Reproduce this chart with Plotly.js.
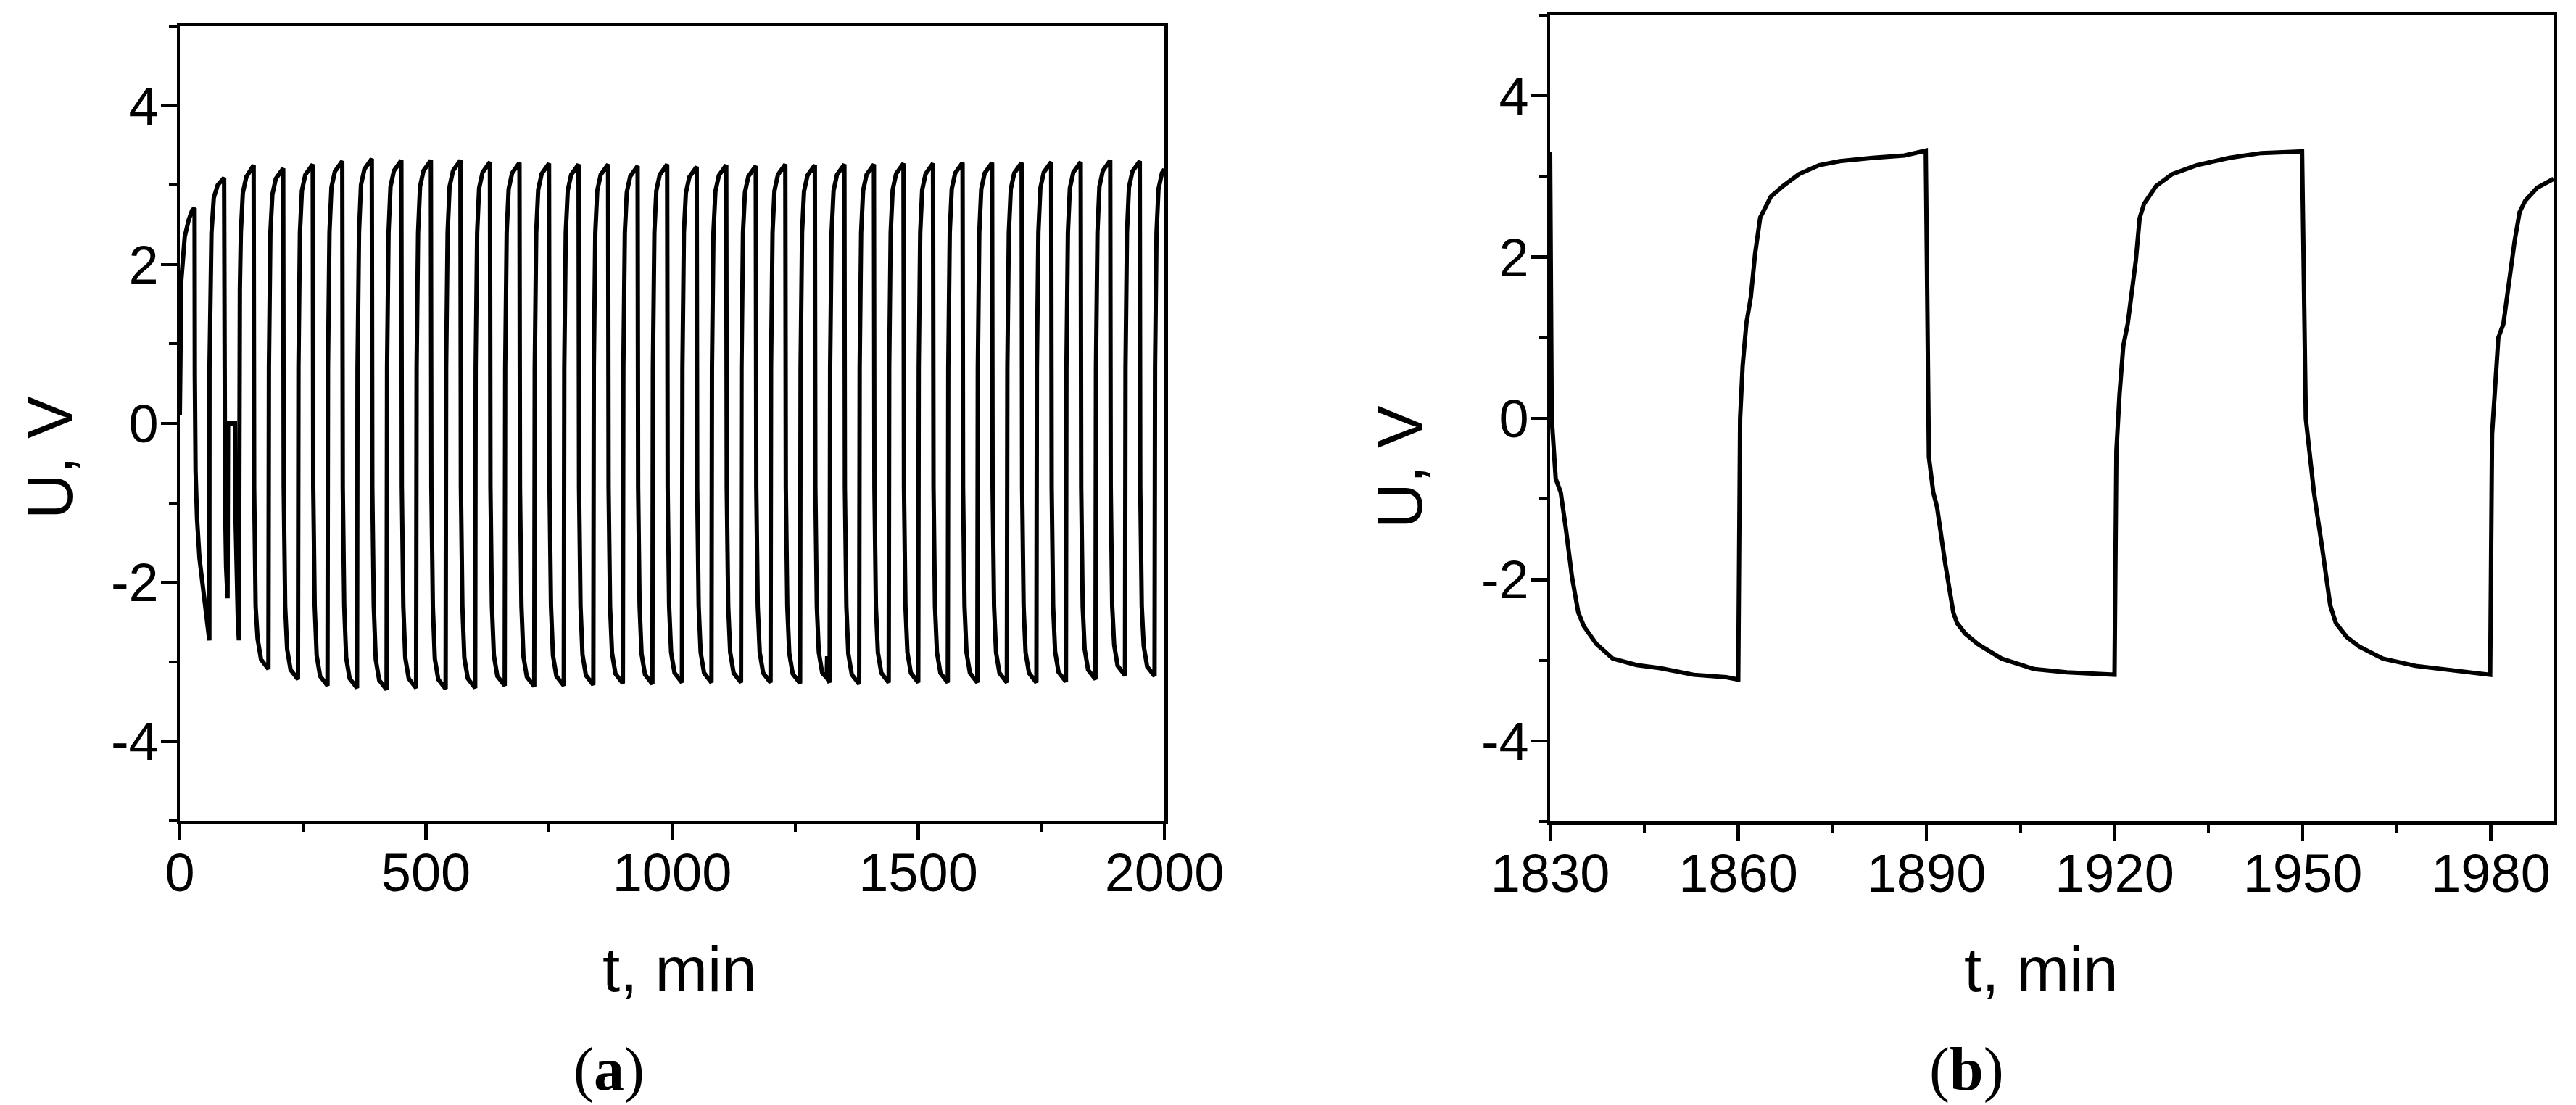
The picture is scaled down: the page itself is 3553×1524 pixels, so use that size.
<!DOCTYPE html>
<html>
<head>
<meta charset="utf-8">
<script src="https://cdn.plot.ly/plotly-3.0.1.min.js"></script>
<style>
  html, body { margin: 0; padding: 0; background: #fff; }
  #chart { width: 3553px; height: 1524px; }
</style>
</head>
<body>
<div id="chart"></div>
<script>
// (a) full record, t in min, U in V
const tA = [
  0, 2, 3, 10, 18, 25, 30, 30.5, 32, 35, 40, 47, 54, 60, 60.3, 62, 64.3, 69, 77, 90,
  90.5, 92, 94, 97, 98, 112, 112.5, 115, 118, 120, 120.3, 122, 124, 128, 135,
  150, 151, 154, 158, 165, 180, 181, 184, 188, 195,
  210, 211, 214, 218, 225, 240, 241, 244, 248, 255,
  270, 271, 274, 278, 285, 300, 301, 304, 308, 315,
  330, 331, 334, 338, 345, 360, 361, 364, 368, 375,
  390, 391, 394, 398, 405, 420, 421, 424, 428, 435,
  450, 451, 454, 458, 465, 480, 481, 484, 488, 495,
  510, 511, 514, 518, 525, 540, 541, 544, 548, 555,
  570, 571, 574, 578, 585, 600, 601, 604, 608, 615,
  630, 631, 634, 638, 645, 660, 661, 664, 668, 675,
  690, 691, 694, 698, 705, 720, 721, 724, 728, 735,
  750, 751, 754, 758, 765, 780, 781, 784, 788, 795,
  810, 811, 814, 818, 825, 840, 841, 844, 848, 855,
  870, 871, 874, 878, 885, 900, 901, 904, 908, 915,
  930, 931, 934, 938, 945, 960, 961, 964, 968, 975,
  990, 991, 994, 998, 1005, 1020, 1021, 1024, 1028, 1035,
  1050, 1051, 1054, 1058, 1065, 1080, 1081, 1084, 1088, 1095,
  1110, 1111, 1114, 1118, 1125, 1140, 1141, 1144, 1148, 1155,
  1170, 1171, 1174, 1178, 1185, 1200, 1201, 1204, 1208, 1215,
  1230, 1231, 1234, 1238, 1245, 1260, 1261, 1264, 1268, 1275,
  1290, 1291, 1294, 1298, 1305, 1314, 1315, 1316, 1320, 1321, 1324, 1328, 1335,
  1350, 1351, 1354, 1358, 1365, 1380, 1381, 1384, 1388, 1395,
  1410, 1411, 1414, 1418, 1425, 1440, 1441, 1444, 1448, 1455,
  1470, 1471, 1474, 1478, 1485, 1500, 1501, 1504, 1508, 1515,
  1530, 1531, 1534, 1538, 1545, 1560, 1561, 1564, 1568, 1575,
  1590, 1591, 1594, 1598, 1605, 1620, 1621, 1624, 1628, 1635,
  1650, 1651, 1654, 1658, 1665, 1680, 1681, 1684, 1688, 1695,
  1710, 1711, 1714, 1718, 1725, 1740, 1741, 1744, 1748, 1755,
  1770, 1771, 1774, 1778, 1785, 1800, 1801, 1804, 1808, 1815,
  1830, 1831, 1834, 1838, 1845, 1860, 1861, 1864, 1868, 1875,
  1890, 1891, 1894, 1898, 1905, 1920, 1921, 1924, 1928, 1935,
  1950, 1951, 1954, 1958, 1965, 1980, 1981, 1984, 1988, 1995, 2000
];
const uA = [
  0.1, 1.2, 1.8, 2.35, 2.56, 2.68, 2.71, 0.6, -0.6, -1.2, -1.7, -2.06, -2.42, -2.73, 0.7, 1.6, 2.4, 2.84, 3.0, 3.09,
  0.3, -1.0, -1.8, -2.2, 0, 0, -1.0, -2.0, -2.5, -2.73, 0.7, 1.7, 2.4, 2.9, 3.1,
  3.25, -0.8, -2.3, -2.71, -2.97, -3.09, 0.7, 2.4, 2.88, 3.08,
  3.21, -0.8, -2.3, -2.84, -3.10, -3.22, 0.7, 2.4, 2.93, 3.13,
  3.26, -0.8, -2.3, -2.92, -3.18, -3.30, 0.7, 2.4, 2.97, 3.17,
  3.30, -0.8, -2.3, -2.95, -3.21, -3.33, 0.7, 2.4, 3.00, 3.20,
  3.33, -0.8, -2.3, -2.97, -3.23, -3.35, 0.7, 2.4, 2.98, 3.18,
  3.31, -0.8, -2.3, -2.95, -3.21, -3.33, 0.7, 2.4, 2.98, 3.18,
  3.31, -0.8, -2.3, -2.96, -3.22, -3.34, 0.7, 2.4, 2.98, 3.18,
  3.31, -0.8, -2.3, -2.95, -3.21, -3.33, 0.7, 2.4, 2.96, 3.16,
  3.29, -0.8, -2.3, -2.92, -3.18, -3.30, 0.7, 2.4, 2.95, 3.15,
  3.28, -0.8, -2.3, -2.93, -3.19, -3.31, 0.7, 2.4, 2.94, 3.14,
  3.27, -0.8, -2.3, -2.92, -3.18, -3.30, 0.7, 2.4, 2.93, 3.13,
  3.26, -0.8, -2.3, -2.91, -3.17, -3.29, 0.7, 2.4, 2.93, 3.13,
  3.26, -0.8, -2.3, -2.89, -3.15, -3.27, 0.7, 2.4, 2.91, 3.11,
  3.24, -0.8, -2.3, -2.90, -3.16, -3.28, 0.7, 2.4, 2.93, 3.13,
  3.26, -0.8, -2.3, -2.88, -3.14, -3.26, 0.7, 2.4, 2.90, 3.10,
  3.23, -0.8, -2.3, -2.88, -3.14, -3.26, 0.7, 2.4, 2.92, 3.12,
  3.25, -0.8, -2.3, -2.88, -3.14, -3.26, 0.7, 2.4, 2.91, 3.11,
  3.24, -0.8, -2.3, -2.88, -3.14, -3.26, 0.7, 2.4, 2.93, 3.13,
  3.26, -0.8, -2.3, -2.89, -3.15, -3.27, 0.7, 2.4, 2.92, 3.12,
  3.25, -0.8, -2.3, -2.88, -3.14, -3.20, -2.93, -3.22, -3.26, 0.7, 2.4, 2.93, 3.13,
  3.26, -0.8, -2.3, -2.90, -3.16, -3.28, 0.7, 2.4, 2.93, 3.13,
  3.26, -0.8, -2.3, -2.88, -3.14, -3.26, 0.7, 2.4, 2.94, 3.14,
  3.27, -0.8, -2.3, -2.88, -3.14, -3.26, 0.7, 2.4, 2.94, 3.14,
  3.27, -0.8, -2.3, -2.88, -3.14, -3.26, 0.7, 2.4, 2.95, 3.15,
  3.28, -0.8, -2.3, -2.88, -3.14, -3.26, 0.7, 2.4, 2.95, 3.15,
  3.28, -0.8, -2.3, -2.88, -3.14, -3.26, 0.7, 2.4, 2.95, 3.15,
  3.28, -0.8, -2.3, -2.88, -3.14, -3.26, 0.7, 2.4, 2.96, 3.16,
  3.29, -0.8, -2.3, -2.87, -3.13, -3.25, 0.7, 2.4, 2.96, 3.16,
  3.29, -0.8, -2.3, -2.84, -3.10, -3.22, 0.7, 2.4, 2.98, 3.18,
  3.31, -0.8, -2.3, -2.79, -3.05, -3.17, 0.7, 2.4, 2.97, 3.17,
  3.30, -0.8, -2.3, -2.80, -3.06, -3.18, 0.7, 2.4, 2.95, 3.15, 3.2
];

// (b) detail 1830-1990 min
const tB = [
  1830, 1830.26, 1830.9, 1831.7, 1832.5, 1833.5, 1834.5, 1835.4, 1837.4, 1840, 1843.8, 1847.7, 1852.9, 1858.1, 1860,
  1860.3, 1860.7, 1861.3, 1862, 1862.7, 1863.5, 1864.3, 1865.2, 1867.1, 1869.7, 1872.9, 1876.2, 1881.4, 1886.5, 1889.9,
  1890.4, 1891.1, 1891.7, 1893, 1894.3, 1894.9, 1896.2, 1898.2, 1902, 1907.2, 1912.4, 1920,
  1920.3, 1920.8, 1921.4, 1922.1, 1922.7, 1923.4, 1924, 1924.7, 1926.6, 1929.2, 1933.1, 1938.3, 1943.4, 1949.9,
  1950.5, 1951.2, 1951.8, 1953.1, 1954.4, 1955.3, 1957, 1959, 1962.8, 1968, 1974.5, 1979.9,
  1980.2, 1980.7, 1981.2, 1982, 1982.9, 1983.8, 1984.6, 1985.5, 1987.4, 1990
];
const uB = [
  3.3, 0.0, -0.75, -0.92, -1.36, -1.97, -2.41, -2.58, -2.8, -2.98, -3.06, -3.1, -3.18, -3.21, -3.24,
  0.0, 0.65, 1.18, 1.5, 2.05, 2.49, 2.62, 2.75, 2.88, 3.03, 3.14, 3.19, 3.23, 3.26, 3.32,
  -0.48, -0.92, -1.1, -1.8, -2.41, -2.54, -2.67, -2.8, -2.98, -3.11, -3.15, -3.18,
  -0.4, 0.3, 0.9, 1.17, 1.52, 1.96, 2.48, 2.66, 2.88, 3.03, 3.14, 3.23, 3.29, 3.31,
  0.0, -0.57, -0.92, -1.6, -2.32, -2.54, -2.71, -2.83, -2.98, -3.07, -3.13, -3.18,
  -0.2, 0.48, 1.0, 1.17, 1.7, 2.2, 2.56, 2.7, 2.86, 2.97
];

const xTicksA = [0, 500, 1000, 1500, 2000];
const xMinorA = [250, 750, 1250, 1750];
const xTicksB = [1830, 1860, 1890, 1920, 1950, 1980];
const xMinorB = [1845, 1875, 1905, 1935, 1965];
const yTicks = [-4, -2, 0, 2, 4];
const yTickText = ['-4', '-2', '0', '2', '4'];
const yMinor = [-5, -3, -1, 1, 3, 5];

const W = 3553, H = 1524;
const px = (x) => x / W;
const py = (y) => 1 - y / H;
const sans = 'Arial, "Liberation Sans", sans-serif';
const serif = '"Liberation Serif", "Times New Roman", serif';

function eje(extra) {
  return Object.assign({
    showline: true, linecolor: '#000', linewidth: 4.5, mirror: true,
    ticks: 'outside', ticklen: 22, tickwidth: 4.5, tickcolor: '#000',
    showgrid: false, zeroline: false, fixedrange: true,
    tickfont: { family: sans, size: 74, color: '#000' },
    tickmode: 'array',
  }, extra);
}
const minor = (vals) => ({ tickmode: 'array', tickvals: vals, ticks: 'outside', ticklen: 11, tickwidth: 4, tickcolor: '#000', showgrid: false });

const traces = [
  { x: tA, y: uA, xaxis: 'x', yaxis: 'y', type: 'scatter', mode: 'lines',
    line: { color: '#000', width: 6 }, showlegend: false },
  { x: tB, y: uB, xaxis: 'x2', yaxis: 'y2', type: 'scatter', mode: 'lines',
    line: { color: '#000', width: 6 }, showlegend: false },
];

const titulo = (text, x, y, extra) => Object.assign({
  text, x: px(x), y: py(y), xref: 'paper', yref: 'paper',
  xanchor: 'center', yanchor: 'middle', showarrow: false,
  font: { family: sans, size: 87, color: '#000' },
}, extra);

const layout = {
  width: W, height: H,
  margin: { l: 0, r: 0, t: 0, b: 0, pad: 0 },
  paper_bgcolor: '#fff', plot_bgcolor: '#fff',
  xaxis: eje({ domain: [px(248), px(1606)], range: [0, 2000], anchor: 'y',
    tickvals: xTicksA, ticktext: xTicksA.map(String), minor: minor(xMinorA), ticklabelstandoff: -18 }),
  yaxis: eje({ domain: [py(1132), py(36)], range: [-5, 5], anchor: 'x',
    tickvals: yTicks, ticktext: yTickText, minor: minor(yMinor), ticklabelstandoff: -12 }),
  xaxis2: eje({ domain: [px(2138), px(3522)], range: [1830, 1990], anchor: 'y2',
    tickvals: xTicksB, ticktext: xTicksB.map(String), minor: minor(xMinorB), ticklabelstandoff: -18 }),
  yaxis2: eje({ domain: [py(1133), py(21)], range: [-5, 5], anchor: 'x2',
    tickvals: yTicks, ticktext: yTickText, minor: minor(yMinor), ticklabelstandoff: -12 }),
  annotations: [
    titulo('t, min', 938, 1336),
    titulo('t, min', 2815, 1336),
    titulo('U, V', 68, 632, { textangle: -90 }),
    titulo('U, V', 1930, 645, { textangle: -90 }),
    titulo('(<b>a</b>)', 840, 1524, { yanchor: 'bottom', y: 0, font: { family: serif, size: 84, color: '#000' } }),
    titulo('(<b>b</b>)', 2712, 1524, { yanchor: 'bottom', y: 0, font: { family: serif, size: 84, color: '#000' } }),
  ],
};

Plotly.newPlot('chart', traces, layout, { staticPlot: true, displayModeBar: false });
</script>
</body>
</html>
